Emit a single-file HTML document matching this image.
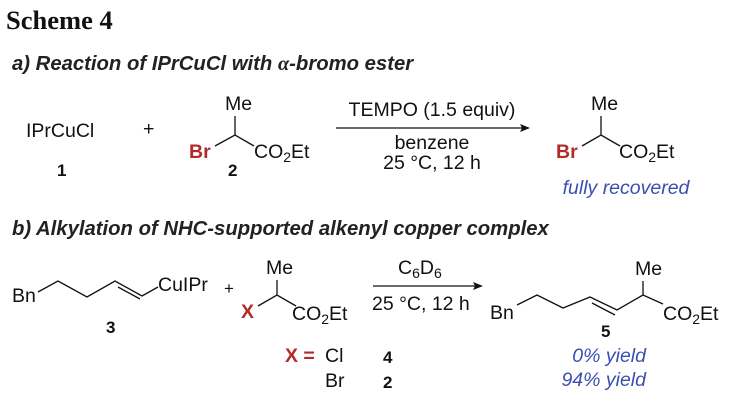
<!DOCTYPE html>
<html><head><meta charset="utf-8"><style>
html,body{margin:0;padding:0;background:#fff}
svg{display:block}
text{font-family:"Liberation Sans",Arial,sans-serif;fill:#111}
.s{font-size:19.5px}
.b{font-weight:bold}
.r{fill:#b22a2a;font-weight:bold}
.bl{fill:#3a4fb0;font-style:italic}
.h{font-weight:bold;font-style:italic;font-size:20.3px;fill:#222}
</style></head><body>
<svg width="739" height="404" viewBox="0 0 739 404">
<text x="6" y="29" style="font-family:'Liberation Serif',serif;font-size:26.5px;font-weight:bold">Scheme 4</text>
<text x="12" y="70" class="h">a) Reaction of IPrCuCl with <tspan style="font-family:'Liberation Serif',serif">α</tspan>-bromo ester</text>
<text x="26" y="137" class="s">IPrCuCl</text>
<text x="57" y="176" class="s b" style="font-size:17px">1</text>
<text x="143" y="135" class="s">+</text>
<text x="225" y="110" class="s">Me</text>
<text x="189" y="158" class="s r">Br</text>
<text x="254" y="158" class="s">CO<tspan font-size="14" dy="4">2</tspan><tspan dy="-4">Et</tspan></text>
<text x="228" y="176" class="s b" style="font-size:17px">2</text>
<text x="432" y="116" class="s" text-anchor="middle">TEMPO (1.5 equiv)</text>
<text x="432" y="149" class="s" text-anchor="middle">benzene</text>
<text x="432" y="169" class="s" text-anchor="middle">25 °C, 12 h</text>
<text x="591" y="110" class="s">Me</text>
<text x="556" y="158" class="s r">Br</text>
<text x="619" y="158" class="s">CO<tspan font-size="14" dy="4">2</tspan><tspan dy="-4">Et</tspan></text>
<text x="626" y="194" class="s bl" text-anchor="middle">fully recovered</text>
<g stroke="#111" stroke-width="1.3" fill="none">
<path d="M215 146 L235 135 L254 146 M235 135 L235 116"/>
<path d="M336 128 L522 128"/>
<path d="M582 146 L601 135 L620 146 M601 135 L601 116"/>
<path d="M38 292 L58 281 L87 297 L115 281 L142 296 L158 287 M118 287 L140 299"/>
<path d="M258 306 L277 295 L296 306 M277 295 L277 280"/>
<path d="M373 286 L475 286"/>
<path d="M517 305 L537 295 L563 308 L590 297 L617 310 L643 295 L663 304 M592 303 L615 315 M643 295 L643 281"/>
</g>
<path d="M530 128 L520 124 L522 128 L520 132Z" fill="#111"/>
<path d="M483 286 L473 282 L475 286 L473 290Z" fill="#111"/>
<text x="12" y="235" class="h">b) Alkylation of NHC-supported alkenyl copper complex</text>
<text x="12" y="302" class="s">Bn</text>
<text x="158" y="291" class="s">CuIPr</text>
<text x="106" y="333" class="s b" style="font-size:17px">3</text>
<text x="224" y="294" class="s" style="font-size:17px">+</text>
<text x="266" y="274" class="s">Me</text>
<text x="241" y="318" class="s r">X</text>
<text x="292" y="320" class="s">CO<tspan font-size="14" dy="4">2</tspan><tspan dy="-4">Et</tspan></text>
<text x="285" y="362" class="s r">X =</text>
<text x="325" y="362" class="s">Cl</text>
<text x="325" y="387" class="s">Br</text>
<text x="383" y="363" class="s b" style="font-size:17px">4</text>
<text x="383" y="388" class="s b" style="font-size:17px">2</text>
<text x="398" y="274" class="s">C<tspan font-size="14" dy="4">6</tspan><tspan dy="-4">D</tspan><tspan font-size="14" dy="4">6</tspan></text>
<text x="372" y="310" class="s">25 °C, 12 h</text>
<text x="490" y="319" class="s">Bn</text>
<text x="635" y="275" class="s">Me</text>
<text x="663" y="320" class="s">CO<tspan font-size="14" dy="4">2</tspan><tspan dy="-4">Et</tspan></text>
<text x="601" y="337" class="s b" style="font-size:17px">5</text>
<text x="646" y="362" class="s bl" text-anchor="end">0% yield</text>
<text x="646" y="386" class="s bl" text-anchor="end">94% yield</text>
</svg>
</body></html>
